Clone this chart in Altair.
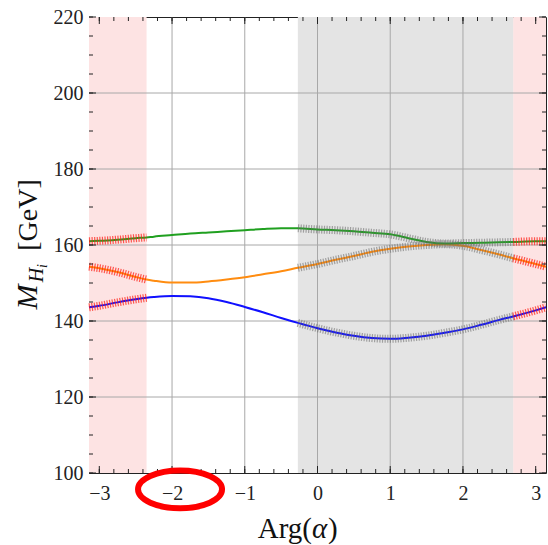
import math

import altair as alt
import numpy as np
import pandas as pd

# Scan over the phase Arg(alpha); masses of the three neutral scalars in GeV
arg = [-3.1416, -3.0, -2.75, -2.5, -2.35, -2.25, -2.0, -1.75, -1.5, -1.25, -1.0,
       -0.75, -0.5, -0.27, 0.0, 0.25, 0.5, 0.75, 1.0, 1.25, 1.5, 1.75, 2.0, 2.25,
       2.5, 2.69, 3.0, 3.1416]
m_h1 = [143.6, 144.0, 144.9, 145.7, 146.1, 146.3, 146.6, 146.5, 146.0, 145.0, 143.7,
        142.3, 140.8, 139.5, 138.1, 137.0, 136.1, 135.5, 135.3, 135.6, 136.1, 136.9,
        137.8, 139.0, 140.3, 141.2, 142.8, 143.6]
m_h2 = [154.3, 153.9, 152.9, 151.6, 150.9, 150.6, 150.1, 150.1, 150.4, 150.9, 151.5,
        152.3, 153.1, 154.0, 155.0, 156.1, 157.1, 158.2, 159.0, 159.6, 160.0, 160.2,
        159.8, 158.7, 157.5, 156.5, 155.0, 154.3]
m_h3 = [161.0, 161.1, 161.4, 161.8, 162.0, 162.2, 162.6, 163.0, 163.3, 163.6, 163.9,
        164.2, 164.4, 164.4, 164.1, 163.9, 163.6, 163.2, 162.8, 161.8, 160.8, 160.4,
        160.5, 160.6, 160.7, 160.8, 161.0, 161.0]

# Excluded (pink) and allowed (gray) phase windows
pink_lo = [-3.1416, 2.69]
pink_hi = [-2.35, 3.1416]
gray_lo = [-0.27]
gray_hi = [2.69]

# Annotation ring around a tick label
ring_arg = [-1.89]
ring_mass = [95.7]

x_major = [-3, -2, -1, 0, 1, 2, 3]
y_major = [100, 120, 140, 160, 180, 200, 220]
x_grid = [-2, -1, 0, 1, 2]
y_grid = [120, 140, 160, 180, 200]
x_minor = [round(v, 1) for v in np.arange(-3.0, 3.01, 0.2)]
y_minor = list(range(100, 221, 5))

W, H = 457, 456
FONT = "Liberation Serif"
PINK, GRAY_BG = "#fde3e3", "#e4e4e4"
CURVE_COLORS = {"H1": "#1010ff", "H2": "#ff8c10", "H3": "#20a020"}

xs = alt.Scale(domain=[-math.pi, math.pi], nice=False, zero=False)
ys = alt.Scale(domain=[100, 220], nice=False, zero=False)

curves = {
    "H1": pd.DataFrame({"arg": arg, "mass": m_h1}),
    "H2": pd.DataFrame({"arg": arg, "mass": m_h2}),
    "H3": pd.DataFrame({"arg": arg, "mass": m_h3}),
}


def region_rect(lo, hi, color, axis=None):
    df = pd.DataFrame({"lo": [lo], "hi": [hi]})
    xenc = alt.X("lo:Q", scale=xs, axis=axis) if axis is not None else alt.X("lo:Q", scale=xs)
    return alt.Chart(df).mark_rect(color=color, opacity=1).encode(
        x=xenc, x2="hi:Q", y=alt.value(0), y2=alt.value(H))


x_axis = alt.Axis(values=x_major, format="d", labelFont=FONT, labelFontSize=20,
                  labelColor="#222", labelPadding=10, ticks=False, domain=False,
                  grid=False, title=None)
y_axis = alt.Axis(values=y_major, labelFont=FONT, labelFontSize=20, labelColor="#222",
                  labelPadding=6, ticks=False, domain=False, grid=False, title=None)

shade = region_rect(pink_lo[0], pink_hi[0], PINK, x_axis)
for lo, hi in list(zip(pink_lo, pink_hi))[1:]:
    shade += region_rect(lo, hi, PINK)
for lo, hi in zip(gray_lo, gray_hi):
    shade += region_rect(lo, hi, GRAY_BG)

# Invisible layer carrying the y axis labels
yaxis = alt.Chart(pd.DataFrame({"v": y_major})).mark_rule(opacity=0).encode(
    y=alt.Y("v:Q", scale=ys, axis=y_axis))

grid_x = alt.Chart(pd.DataFrame({"v": x_grid})).mark_rule(
    color="#a8a8a8", strokeWidth=1).encode(
    x=alt.X("v:Q", scale=xs), y=alt.value(0), y2=alt.value(H))
grid_y = alt.Chart(pd.DataFrame({"v": y_grid})).mark_rule(
    color="#a8a8a8", strokeWidth=1).encode(
    y=alt.Y("v:Q", scale=ys), x=alt.value(0), x2=alt.value(W))

lines = None
bands = None
windows = ([(lo, hi, "#ff1a10", 0.7) for lo, hi in zip(pink_lo, pink_hi)]
           + [(lo, hi, "#666666", 0.55) for lo, hi in zip(gray_lo, gray_hi)])
for name, df in curves.items():
    ln = alt.Chart(df).mark_line(strokeWidth=2, interpolate="monotone",
                                 color=CURVE_COLORS[name]).encode(
        x=alt.X("arg:Q", scale=xs), y=alt.Y("mass:Q", scale=ys))
    lines = ln if lines is None else lines + ln
    # Scan points drawn as a hatched band over the shaded windows
    for lo, hi, col, op in windows:
        seg = df[(df.arg >= lo - 1e-6) & (df.arg <= hi + 1e-6)]
        bd = alt.Chart(seg).mark_line(strokeWidth=8, strokeDash=[1.2, 1.4],
                                      interpolate="monotone", opacity=op,
                                      color=col).encode(
            x=alt.X("arg:Q", scale=xs), y=alt.Y("mass:Q", scale=ys))
        bands = bd if bands is None else bands + bd


def ticks(vals, length, axis):
    df = pd.DataFrame({"v": vals})
    base = alt.Chart(df).mark_rule(color="#222", strokeWidth=1)
    if axis == "x":
        enc = dict(x=alt.X("v:Q", scale=xs))
        return (base.encode(y=alt.value(H), y2=alt.value(H - length), **enc)
                + base.encode(y=alt.value(0), y2=alt.value(length), **enc))
    enc = dict(y=alt.Y("v:Q", scale=ys))
    return (base.encode(x=alt.value(0), x2=alt.value(length), **enc)
            + base.encode(x=alt.value(W), x2=alt.value(W - length), **enc))


tick_layers = (ticks(x_minor, 4, "x") + ticks(x_major, 7, "x")
               + ticks(y_minor, 4, "y") + ticks(y_major, 7, "y"))

ring = alt.Chart(pd.DataFrame({"arg": ring_arg, "mass": ring_mass})).mark_point(
    shape="M -1 0 A 1 0.45 0 1 0 1 0 A 1 0.45 0 1 0 -1 0 Z",
    size=7056, filled=False, stroke="#ff0000", strokeWidth=6, opacity=1,
).encode(x=alt.X("arg:Q", scale=xs), y=alt.Y("mass:Q", scale=ys))


def label(text, x, y, size, angle=0, italic=False, align="center", baseline="middle"):
    kw = dict(font=FONT, fontSize=size, color="#111", align=align, baseline=baseline)
    if angle:
        kw["angle"] = angle
    if italic:
        kw["fontStyle"] = "italic"
    return alt.Chart(pd.DataFrame({"t": [text]})).mark_text(**kw).encode(
        text="t:N", x=alt.value(x), y=alt.value(y))


titles = (
    label("Arg(", 223, 512, 29, align="right")
    + label("α", 223, 512, 29, italic=True, align="left")
    + label(")", 239, 512, 29, align="left")
    + label("M", -52, 280, 30, angle=270, italic=True, baseline="alphabetic")
    + label("H", -46, 258, 20, angle=270, italic=True, baseline="alphabetic")
    + label("i", -42, 249, 14, angle=270, italic=True, baseline="alphabetic")
    + label("[GeV]", -52, 198, 28, angle=270, baseline="alphabetic")
)

chart = alt.layer(
    shade, yaxis, grid_x, grid_y, lines, bands, tick_layers, ring, titles
).properties(
    width=W, height=H,
    autosize=alt.AutoSizeParams(type="none"),
    padding={"left": 89, "top": 17, "right": 2, "bottom": 72},
).configure_view(stroke="#222", strokeWidth=1)

chart.save("out.html", embed_options={"renderer": "svg", "actions": False})
